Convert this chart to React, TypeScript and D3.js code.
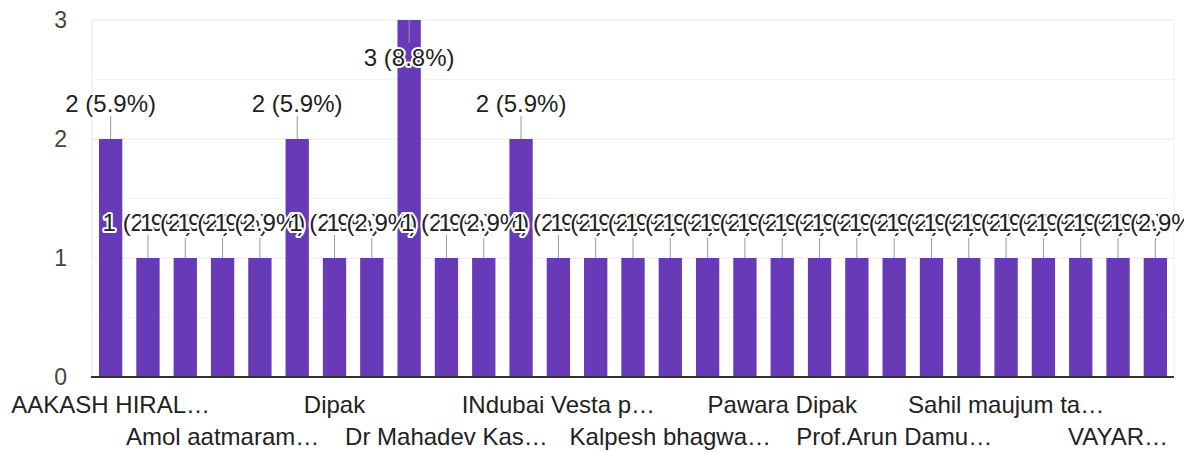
import React from 'react';
import * as d3 from 'd3';

// responses per name (34 in total)
const counts = [2, 1, 1, 1, 1, 2, 1, 1, 3, 1, 1, 2, 1, 1, 1, 1, 1, 1, 1, 1, 1, 1, 1, 1, 1, 1, 1, 1, 1];
// category labels that the chart actually shows (every 3rd bar)
const shownIndex = [0, 3, 6, 9, 12, 15, 18, 21, 24, 27];
const shownLabels = [
  'AAKASH HIRAL…',
  'Amol aatmaram…',
  'Dipak',
  'Dr Mahadev Kas…',
  'INdubai Vesta p…',
  'Kalpesh bhagwa…',
  'Pawara Dipak',
  'Prof.Arun Damu…',
  'Sahil maujum ta…',
  'VAYAR…',
];
const yTicks = [0, 1, 2, 3];
const yGrid = [0.5, 1, 1.5, 2, 2.5, 3];

const W = 1184;
const H = 452;
const FONT = 'Arial, "Liberation Sans", sans-serif';

const App: React.FC = () => {
  const margin = { top: 20, right: 10, bottom: 75, left: 92 };
  const total = d3.sum(counts);

  const x = d3.scaleBand<number>()
    .domain(counts.map((_, i) => i))
    .range([margin.left, W - margin.right])
    .paddingInner(0.375)
    .paddingOuter(0.1875);

  const y = d3.scaleLinear()
    .domain([0, 3])
    .range([H - margin.bottom, margin.top]);

  const labelText = (v: number) => `${v} (${d3.format('.1f')((v / total) * 100)}%)`;

  // labels sit above the bar, except when the bar reaches the top of the plot
  const labelPos = (v: number) => {
    const top = y(v);
    if (top - 40 < 0) return { lineFrom: top, lineTo: top + 23, base: top + 46 };
    return { lineFrom: top, lineTo: top - 23, base: top - 27 };
  };

  return (
    <div style={{ position: 'absolute', left: 0, top: 0 }}>
      <svg width={W} height={H} style={{ display: 'block', fontFamily: FONT }}>
        <rect width={W} height={H} fill="#fff" />
        {/* gridlines */}
        {yGrid.map(t => (
          <line key={t} x1={margin.left} x2={W - margin.right} y1={y(t)} y2={y(t)}
            stroke={Number.isInteger(t) ? '#e8e8e8' : '#f3f3f3'} strokeWidth={1} />
        ))}
        <line x1={margin.left} x2={margin.left} y1={margin.top} y2={y(0)} stroke="#e8e8e8" />
        <line x1={W - margin.right} x2={W - margin.right} y1={margin.top} y2={y(0)} stroke="#f0f0f0" />

        {/* y tick labels */}
        {yTicks.map(t => (
          <text key={t} x={67} y={y(t)} dy="0.36em" textAnchor="end" fontSize={23} fill="#444">{t}</text>
        ))}

        {/* bars */}
        {counts.map((v, i) => (
          <rect key={i} x={x(i)} y={y(v)} width={x.bandwidth()} height={y(0) - y(v)} fill="#673ab7" />
        ))}

        {/* baseline */}
        <line x1={margin.left - 1} x2={W - margin.right} y1={y(0)} y2={y(0)} stroke="#333" strokeWidth={2} />

        {/* leader lines */}
        {counts.map((v, i) => {
          const p = labelPos(v);
          const cx = (x(i) as number) + x.bandwidth() / 2;
          return <line key={i} x1={cx} x2={cx} y1={p.lineFrom} y2={p.lineTo} stroke="#999" strokeWidth={1} />;
        })}

        {/* value labels with white halo */}
        {counts.map((v, i) => {
          const p = labelPos(v);
          const cx = (x(i) as number) + x.bandwidth() / 2;
          return (
            <text key={i} x={cx} y={p.base} textAnchor="middle" fontSize={24} fill="#222"
              stroke="#fff" strokeWidth={4} strokeLinejoin="round" style={{ paintOrder: 'stroke' }}>
              {labelText(v)}
            </text>
          );
        })}

        {/* category labels, staggered on two rows */}
        {shownIndex.map((idx, k) => {
          const cx = (x(idx) as number) + x.bandwidth() / 2;
          return (
            <text key={idx} x={cx} y={k % 2 === 0 ? 413 : 445} textAnchor="middle" fontSize={24} fill="#222">
              {shownLabels[k]}
            </text>
          );
        })}
      </svg>
    </div>
  );
};

export default App;
